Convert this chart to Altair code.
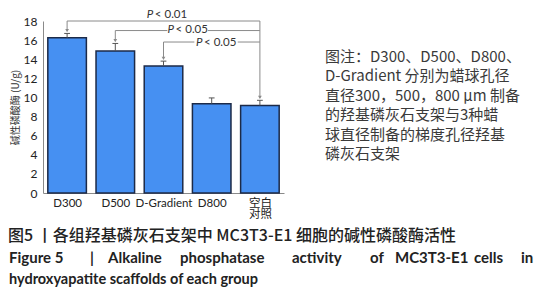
import json
import altair as alt
import pandas as pd

# ---- data ----
groups = ["D300", "D500", "D-Gradient", "D800", "空白对照"]
x_labels = ["D300", "D500", "D-Gradient", "D800", ["空白", "对照"]]
means = [16.25, 14.85, 13.3, 9.35, 9.15]
errs = [0.45, 0.8, 0.5, 0.6, 0.55]
y_ticks = [0, 2, 4, 6, 8, 10, 12, 14, 16, 18]

cmp_from = [0, 1, 2]          # index of compared group
cmp_to = 4                    # index of control group
cmp_level = [18.0, 17.0, 15.8]
cmp_text = ["< 0.01", "< 0.05", "< 0.05"]
cmp_label_x = [2.07, 2.5, 3.09]
cmp_gap = [0.0, 0.42, 0.45]   # half-width of line gap around label
cmp_dy = [-6, -1, 1]

note_lines = [
    "图注：D300、D500、D800、",
    "D-Gradient 分别为蜡球孔径",
    "直径300，500，800 μm 制备",
    "的羟基磷灰石支架与3种蜡",
    "球直径制备的梯度孔径羟基",
    "磷灰石支架",
]
cap_cn = "图5 丨各组羟基磷灰石支架中 MC3T3-E1 细胞的碱性磷酸酶活性"
cap_en_words = ["Figure 5", "|", "Alkaline", "phosphatase", "activity", "of",
                "MC3T3-E1", "cells", "in"]
cap_en_x = [9, 90, 108, 180, 292, 370, 395, 474, 521]
cap_en_2 = "hydroxyapatite scaffolds of each group"

# ---- tables ----
idx = list(range(len(groups)))
bars = pd.DataFrame({"idx": idx, "group": groups, "mean": means, "err": errs})
bars["upper"] = bars["mean"] + bars["err"]

BLUE = "#4690f2"
EDGE = "#1c2a48"
GRAY = "#8a8a8a"
TXT = "#333333"

x_scale = alt.Scale(domain=[-0.5, 4.5], nice=False, zero=False)
x_axis = alt.Axis(values=idx, labelExpr=f"{json.dumps(x_labels, ensure_ascii=False)}[datum.value]",
                  title=None, ticks=False, domainColor=GRAY, labelPadding=4,
                  labelFont="Lato, Noto Sans CJK SC", labelFontSize=11.5,
                  labelColor="#222", labelLineHeight=11, labelOverlap=False, grid=False)
y_scale = alt.Scale(domain=[0, 18], nice=False)
y_axis = alt.Axis(values=y_ticks, title="碱性磷酸酶 (U/g)", titleFont="Noto Sans CJK SC",
                  titleFontSize=10, titleFontWeight="normal", titleColor=TXT,
                  titlePadding=3, ticks=False, domainColor=GRAY, grid=False,
                  labelOverlap=False,
                  labelFont="Lato", labelFontSize=12, labelColor="#222", labelPadding=6)


def X(f):
    return alt.X(f, scale=x_scale, axis=x_axis)


def Y(f):
    return alt.Y(f, scale=y_scale, axis=y_axis)


base = alt.Chart(bars)
bar_layer = base.transform_calculate(x0="datum.idx - 0.4", x1="datum.idx + 0.4").mark_bar(
    color=BLUE, stroke=EDGE, strokeWidth=1.5
).encode(x=X("x0:Q"), x2="x1:Q", y=Y("mean:Q"), y2=alt.datum(0))

err_rule = base.mark_rule(color="#555", strokeWidth=1).encode(
    x=X("idx:Q"), y=Y("mean:Q"), y2="upper:Q")
err_cap = base.transform_calculate(a="datum.idx - 0.06", b="datum.idx + 0.06").mark_rule(
    color="#555", strokeWidth=1).encode(x=X("a:Q"), x2="b:Q", y=Y("upper:Q"))

# comparison brackets
segs = []
ctrl_upper = means[cmp_to] + errs[cmp_to]
for f, lvl, lx, g in zip(cmp_from, cmp_level, cmp_label_x, cmp_gap):
    up = means[f] + errs[f]
    segs.append({"x": f, "x2": f, "y": lvl, "y2": up + 0.25})
    if g > 0:
        segs.append({"x": f, "x2": lx - g, "y": lvl, "y2": lvl})
        segs.append({"x": lx + g, "x2": cmp_to, "y": lvl, "y2": lvl})
    else:
        segs.append({"x": f, "x2": cmp_to, "y": lvl, "y2": lvl})
segs.append({"x": cmp_to, "x2": cmp_to, "y": max(cmp_level), "y2": ctrl_upper + 0.25})
seg_df = pd.DataFrame(segs)
seg_layer = alt.Chart(seg_df).mark_rule(color=GRAY, strokeWidth=1).encode(
    x=X("x:Q"), x2="x2:Q", y=Y("y:Q"), y2="y2:Q")

arrow_df = pd.DataFrame({
    "x": cmp_from + [cmp_to],
    "y": [means[f] + errs[f] + 0.3 for f in cmp_from] + [ctrl_upper + 0.3],
})
arrow_layer = alt.Chart(arrow_df).mark_point(shape="triangle-down", filled=True, size=14,
                                             color=GRAY, opacity=1).encode(x=X("x:Q"), y=Y("y:Q"))

lab_df = pd.DataFrame({"x": cmp_label_x, "y": cmp_level, "t": cmp_text, "dy": cmp_dy})
lab_layers = []
for i, row in lab_df.iterrows():
    one = alt.Chart(lab_df.iloc[[i]])
    lab_layers.append(one.mark_text(text="P", fontStyle="italic", font="Lato", fontSize=11.5,
                                    color=TXT, align="left", baseline="middle",
                                    dx=-20, dy=int(row["dy"])).encode(x=X("x:Q"), y=Y("y:Q")))
    lab_layers.append(one.mark_text(font="Lato", fontSize=11.5, color=TXT, align="left",
                                    baseline="middle", dx=-12, dy=int(row["dy"])).encode(
        x=X("x:Q"), y=Y("y:Q"), text="t:N"))

# annotations outside the plot
txt_layers = []
dummy = pd.DataFrame({"k": [0]})
for i, line in enumerate(note_lines):
    txt_layers.append(alt.Chart(dummy).mark_text(
        text=line, font="Noto Sans CJK SC", fontSize=15, color="#3a3a3a", align="left",
        baseline="middle").encode(x=alt.value(282), y=alt.value(36 + i * 19.4)))
txt_layers.append(alt.Chart(dummy).mark_text(
    text=cap_cn, font="Noto Sans CJK SC", fontSize=16, fontWeight=500, color="#222",
    align="left", baseline="middle").encode(x=alt.value(-35), y=alt.value(215)))
for w, xx in zip(cap_en_words, cap_en_x):
    txt_layers.append(alt.Chart(dummy).mark_text(
        text=w, font="Lato", fontSize=15, fontWeight="bold", color="#222",
        align="left", baseline="middle").encode(x=alt.value(xx - 43), y=alt.value(237)))
txt_layers.append(alt.Chart(dummy).mark_text(
    text=cap_en_2, font="Lato", fontSize=14.5, fontWeight="bold", color="#222",
    align="left", baseline="middle").encode(x=alt.value(-34), y=alt.value(259)))

chart = alt.layer(bar_layer, err_rule, err_cap, seg_layer, arrow_layer, *lab_layers,
                  *txt_layers).properties(
    width=241, height=172,
    autosize=alt.AutoSizeParams(type="none"),
    padding={"left": 35, "top": 13, "right": 258, "bottom": 99},
    background="white",
).configure_view(stroke=None).configure_axisY(labelOverlap=False)

chart.save("out.html", embed_options={"renderer": "svg", "actions": False})
